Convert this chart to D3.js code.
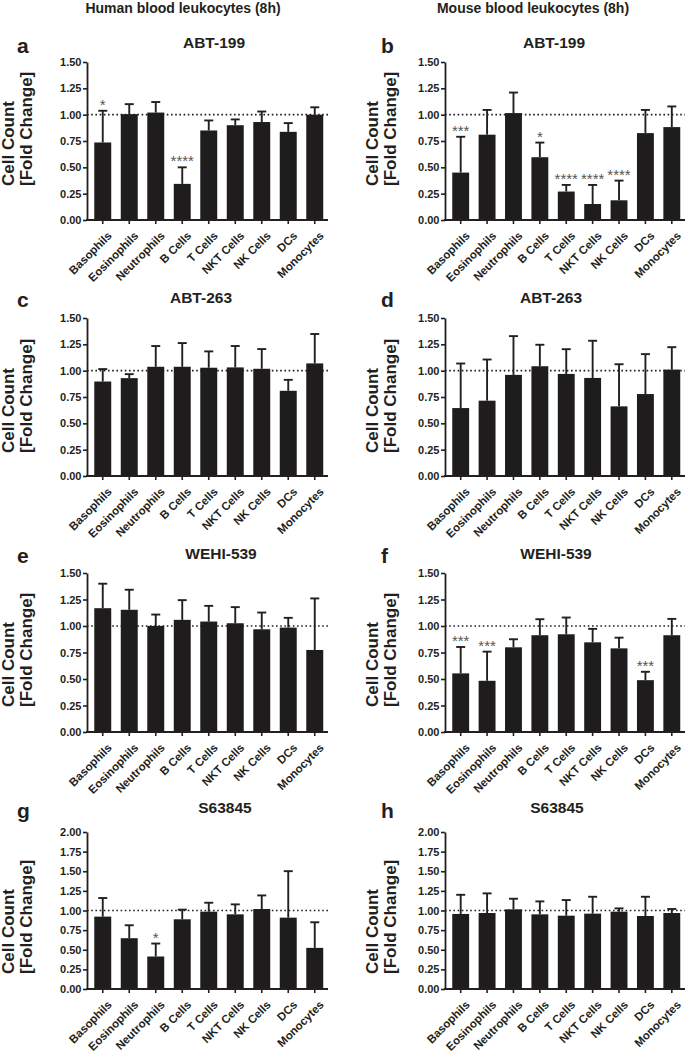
<!DOCTYPE html>
<html><head><meta charset="utf-8">
<script src="https://cdn.jsdelivr.net/npm/d3@7"></script>
<style>
body{margin:0;background:#fff}
svg text{font-family:"Liberation Sans",Arial,Helvetica,sans-serif;font-weight:bold;fill:#231f20}
</style>
</head><body>
<svg id="chart" width="685" height="1052"></svg>
<script>
// ---------- data ----------
const categories = ["Basophils","Eosinophils","Neutrophils","B Cells","T Cells","NKT Cells","NK Cells","DCs","Monocytes"];
const ticks150 = [0,0.25,0.5,0.75,1.0,1.25,1.5];
const ticks200 = [0,0.25,0.5,0.75,1.0,1.25,1.5,1.75,2.0];
const columnHeaders = ["Human blood leukocytes (8h)","Mouse blood leukocytes (8h)"];
const panelLetters = ["a","b","c","d","e","f","g","h"];
const panelTitles = ["ABT-199","ABT-199","ABT-263","ABT-263","WEHI-539","WEHI-539","S63845","S63845"];

const aMean  = [0.736,1.005,1.02,0.343,0.85,0.90,0.93,0.837,1.0];
const aUpper = [1.037,1.10,1.12,0.50,0.945,0.955,1.03,0.92,1.07];
const aSig   = ["*","","","****","","","","",""];

const bMean  = [0.45,0.81,1.015,0.596,0.27,0.152,0.187,0.825,0.882];
const bUpper = [0.79,1.045,1.21,0.735,0.333,0.333,0.374,1.045,1.078];
const bSig   = ["***","","","*","****","****","****","",""];

const cMean  = [0.897,0.929,1.037,1.037,1.028,1.031,1.018,0.809,1.069];
const cUpper = [1.015,0.967,1.234,1.262,1.183,1.234,1.205,0.913,1.348];
const cSig   = ["","","","","","","","",""];

const dMean  = [0.645,0.715,0.96,1.042,0.969,0.931,0.661,0.778,1.01];
const dUpper = [1.068,1.106,1.328,1.246,1.204,1.284,1.061,1.157,1.223];
const dSig   = ["","","","","","","","",""];

const eMean  = [1.168,1.153,1.001,1.058,1.042,1.026,0.969,0.985,0.774];
const eUpper = [1.399,1.342,1.108,1.244,1.19,1.178,1.127,1.077,1.26];
const eSig   = ["","","","","","","","",""];

const fMean  = [0.553,0.483,0.799,0.913,0.922,0.846,0.789,0.489,0.913];
const fUpper = [0.802,0.758,0.875,1.064,1.08,0.973,0.89,0.568,1.067];
const fSig   = ["***","***","","","","","","***",""];

const gMean  = [0.922,0.647,0.414,0.888,0.985,0.951,1.019,0.909,0.524];
const gUpper = [1.159,0.812,0.579,1.011,1.099,1.078,1.192,1.501,0.85];
const gSig   = ["","","*","","","","","",""];

const hMean  = [0.956,0.968,1.015,0.951,0.934,0.96,0.985,0.93,0.968];
const hUpper = [1.2,1.218,1.15,1.116,1.133,1.175,1.027,1.175,1.019];
const hSig   = ["","","","","","","","",""];

// ---------- layout ----------
const cols = [
  {axisX:87, band:[89.5,328], end:328, cellX:14, foldX:32, headerX:183, letterX:17},
  {axisX:445, band:[447.5,685], end:685, cellX:378, foldX:396, headerX:533, letterX:381}
];
const rows = [
  {top:62,  bottom:220, titleY:48,  letterY:53,  labelY:186, ticks:ticks150, ymax:1.5},
  {top:318, bottom:476, titleY:303, letterY:307, labelY:453, ticks:ticks150, ymax:1.5},
  {top:573, bottom:732, titleY:559, letterY:563, labelY:707, ticks:ticks150, ymax:1.5},
  {top:832, bottom:989, titleY:813, letterY:818, labelY:974, ticks:ticks200, ymax:2.0}
];
const titleX = [214,554,201,551,221,556,225,557];

const panelData = [
  [aMean,aUpper,aSig],[bMean,bUpper,bSig],[cMean,cUpper,cSig],[dMean,dUpper,dSig],
  [eMean,eUpper,eSig],[fMean,fUpper,fSig],[gMean,gUpper,gSig],[hMean,hUpper,hSig]
];

const ink = "#231f20";
const svg = d3.select("#chart");

columnHeaders.forEach((h,i)=>{
  svg.append("text").attr("x",cols[i].headerX).attr("y",13)
    .attr("text-anchor","middle").style("font-size","14px").text(h);
});

panelData.forEach(([mean,upper,sig],i)=>{
  const col = cols[i%2], row = rows[Math.floor(i/2)];
  const g = svg.append("g");
  const x = d3.scaleBand().domain(categories).range(col.band).paddingInner(0.36).paddingOuter(0.18);
  const y = d3.scaleLinear().domain([0,row.ymax]).range([row.bottom,row.top]);
  const bw = x.bandwidth();
  const data = categories.map((c,k)=>({c, m:mean[k], u:upper[k], s:sig[k]}));

  // reference dotted line at 1.0
  g.append("line").attr("x1",col.axisX).attr("x2",col.end)
    .attr("y1",y(1)).attr("y2",y(1))
    .attr("stroke",ink).attr("stroke-width",1.6).attr("stroke-dasharray","1.6,2.6");

  // error bars
  const eb = g.append("g").attr("stroke",ink).attr("stroke-width",1.9);
  eb.selectAll("line.v").data(data).join("line").attr("class","v")
    .attr("x1",d=>x(d.c)+bw/2).attr("x2",d=>x(d.c)+bw/2)
    .attr("y1",d=>y(d.m)).attr("y2",d=>y(d.u));
  eb.selectAll("line.h").data(data).join("line").attr("class","h")
    .attr("x1",d=>x(d.c)+bw/2-4.5).attr("x2",d=>x(d.c)+bw/2+4.5)
    .attr("y1",d=>y(d.u)).attr("y2",d=>y(d.u));

  // bars
  g.selectAll("rect").data(data).join("rect")
    .attr("x",d=>x(d.c)).attr("width",bw)
    .attr("y",d=>y(d.m)).attr("height",d=>y(0)-y(d.m))
    .attr("fill","#1e1c1d");

  // significance
  g.selectAll("text.sig").data(data.filter(d=>d.s)).join("text").attr("class","sig")
    .attr("x",d=>x(d.c)+bw/2).attr("y",d=>y(d.u)-1)
    .attr("text-anchor","middle")
    .style("font-size","15px").style("font-weight","normal").style("fill","#555")
    .text(d=>d.s);

  // y axis
  const ya = g.append("g").attr("transform",`translate(${col.axisX},0)`)
    .call(d3.axisLeft(y).tickValues(row.ticks).tickFormat(d3.format(".2f")).tickSize(4).tickSizeOuter(0).tickPadding(1.5));
  ya.select(".domain").attr("stroke",ink).attr("stroke-width",1.8);
  ya.selectAll(".tick line").attr("stroke",ink).attr("stroke-width",1.6);
  ya.selectAll(".tick text").style("font-size","11px").style("font-family",'"Liberation Sans",Arial,sans-serif').style("font-weight","bold").attr("fill",ink);

  // x axis
  const xa = g.append("g").attr("transform",`translate(0,${row.bottom})`)
    .call(d3.axisBottom(x).tickSize(4).tickSizeOuter(0).tickFormat(""));
  xa.select(".domain").remove();
  xa.selectAll(".tick line").attr("stroke",ink).attr("stroke-width",1.6);
  g.append("line").attr("x1",col.axisX-0.9).attr("x2",col.end)
    .attr("y1",row.bottom).attr("y2",row.bottom).attr("stroke",ink).attr("stroke-width",1.8);

  g.selectAll("text.cat").data(categories).join("text").attr("class","cat")
    .attr("transform",c=>`translate(${x(c)+bw/2+4},${row.bottom+10.5}) rotate(-45)`)
    .attr("dy","0.72em").attr("text-anchor","end").style("font-size","11.5px")
    .text(c=>c);

  // titles & labels
  g.append("text").attr("x",titleX[i]).attr("y",row.titleY).attr("text-anchor","middle")
    .style("font-size","15.5px").text(panelTitles[i]);
  g.append("text").attr("x",col.letterX).attr("y",row.letterY)
    .style("font-size","21px").text(panelLetters[i]);
  g.append("text").attr("transform",`translate(${col.cellX},${row.labelY}) rotate(-90)`)
    .style("font-size","17px").attr("text-anchor","start").text("Cell Count");
  g.append("text").attr("transform",`translate(${col.foldX},${row.labelY}) rotate(-90)`)
    .style("font-size","17px").attr("text-anchor","start").text("[Fold Change]");
});
</script>
</body></html>
